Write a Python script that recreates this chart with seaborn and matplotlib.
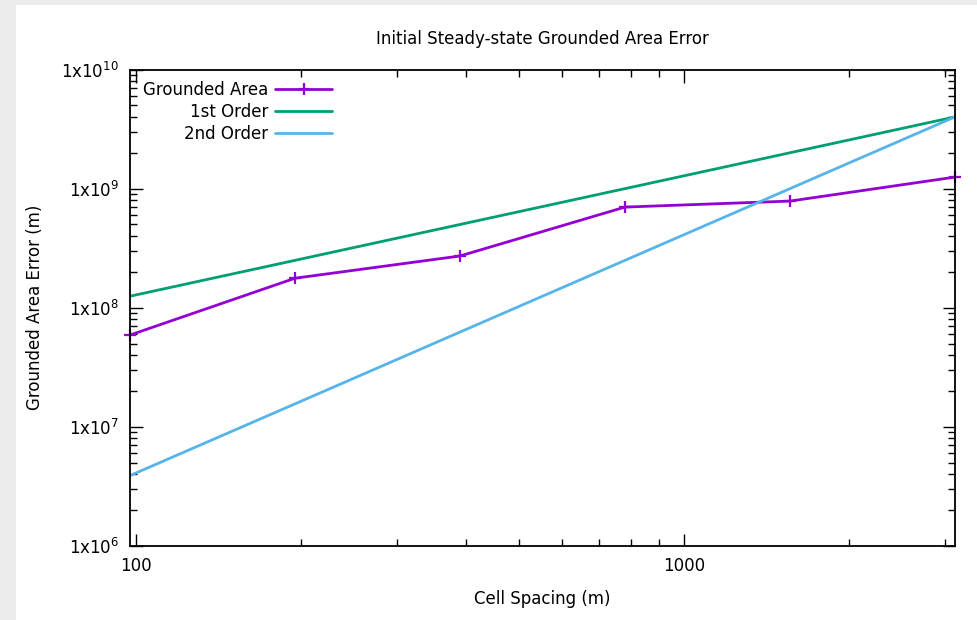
import matplotlib
matplotlib.use("Agg")
import matplotlib.pyplot as plt
from matplotlib.patches import Rectangle
import seaborn as sns

# cell spacing (m) for the grounded area runs
spacing = [97.65625, 195.3125, 390.625, 781.25, 1562.5, 3125.0]
# grounded area error (m)
area_err = [5.9e7, 1.77e8, 2.72e8, 7.0e8, 7.86e8, 1.25e9]
# reference slopes
first_order = [1.25e8, 2.5e8, 5.0e8, 1.0e9, 2.0e9, 4.0e9]
second_order = [3.9e6, 1.56e7, 6.25e7, 2.5e8, 1.0e9, 4.0e9]

ytick_vals = [1e6, 1e7, 1e8, 1e9, 1e10]
ytick_labels = [r"1x10$^{6}$", r"1x10$^{7}$", r"1x10$^{8}$", r"1x10$^{9}$", r"1x10$^{10}$"]
xtick_vals = [100, 1000]
xtick_labels = ["100", "1000"]

sns.set_style("ticks")
plt.rcParams["font.family"] = ["DejaVu Sans"]
plt.rcParams["font.size"] = 12
plt.rcParams["text.color"] = "black"
plt.rcParams["axes.labelcolor"] = "black"
plt.rcParams["xtick.color"] = "black"
plt.rcParams["ytick.color"] = "black"

fig = plt.figure(figsize=(9.78, 6.2), dpi=100, facecolor="#ececec")
# white card with a thin grey margin at left/top like the screenshot
fig.patches.append(Rectangle((16 / 978, 0), 1, 615 / 620, transform=fig.transFigure,
                             facecolor="white", edgecolor="none", zorder=-10))
ax = fig.add_axes([130 / 978, 1 - 546 / 620, (955 - 130) / 978, (546 - 69.5) / 620])
ax.set_facecolor("white")

purple = "#9400d3"
sns.lineplot(x=spacing, y=area_err, ax=ax, color=purple, lw=2, marker="+",
             markersize=9, markeredgewidth=1.6, markeredgecolor=purple,
             label="Grounded Area", clip_on=False)
sns.lineplot(x=spacing, y=first_order, ax=ax, color="#009e73", lw=2, label="1st Order")
sns.lineplot(x=spacing, y=second_order, ax=ax, color="#56b4e9", lw=2, label="2nd Order")

ax.set_xscale("log")
ax.set_yscale("log")
ax.set_xlim(spacing[0], spacing[-1])
ax.set_ylim(1e6, 1e10)
ax.set_xticks(xtick_vals)
ax.set_xticklabels(xtick_labels)
ax.set_yticks(ytick_vals)
ax.set_yticklabels(ytick_labels)

ax.tick_params(which="both", direction="in", top=True, right=True, color="black", width=1)
ax.tick_params(which="major", length=9, pad=8)
ax.tick_params(which="minor", length=5)
for s in ax.spines.values():
    s.set_linewidth(1.3)
    s.set_color("black")

ax.set_title("Initial Steady-state Grounded Area Error", pad=18, fontsize=12)
ax.set_xlabel("Cell Spacing (m)", labelpad=11)
ax.set_ylabel("Grounded Area Error (m)", labelpad=12)

leg = ax.legend(loc="upper left", frameon=False, markerfirst=False, handlelength=3.4,
                handletextpad=0.4, labelspacing=0.22, borderaxespad=0.3,
                bbox_to_anchor=(0.002, 1.0))

fig.savefig("out.png", dpi=100, facecolor=fig.get_facecolor())
